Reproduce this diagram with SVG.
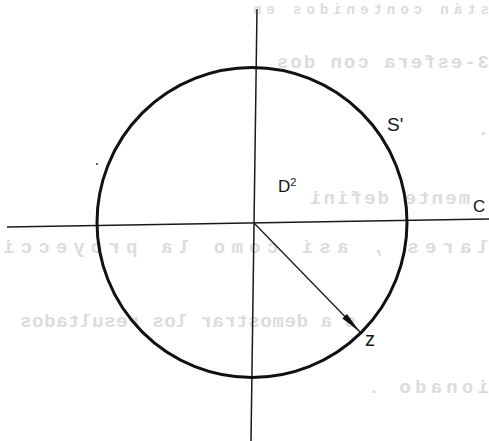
<svg xmlns="http://www.w3.org/2000/svg" width="489" height="441" viewBox="0 0 489 441">
  <style>
    .bg { fill: #dcdcdc; font-family: "Liberation Mono", "Courier New", monospace; font-weight: bold; font-size: 19px; }
    .bg.small { font-size: 14px; }
    .lbl { fill: #151515; font-family: "Liberation Sans", Arial, sans-serif; }
    .axis { stroke: #1a1a1a; stroke-width: 1.5; fill: none; }
  </style>
  <defs>
    <marker id="arrow" markerUnits="userSpaceOnUse" markerWidth="26" markerHeight="10" viewBox="-24 -5 26 10" refX="0" refY="0" orient="auto">
      <path d="M0,0 L-22,-3.2 L-22,3.2 Z" fill="#111"/>
    </marker>
  </defs>
  <rect x="0" y="0" width="489" height="441" fill="#ffffff"/>

  <g id="show-through" transform="scale(-1,1)">
    <text class="bg small" x="-489" y="14" textLength="236" lengthAdjust="spacing">stán contenidos en</text>
    <text class="bg" x="-489" y="68" textLength="212" lengthAdjust="spacing">3-esfera con dos</text>
    <text class="bg" x="-489" y="135">.</text>
    <text class="bg" x="-470" y="204" textLength="160" lengthAdjust="spacing">mente defini</text>
    <text class="bg" x="-489" y="253" textLength="486" lengthAdjust="spacing">lares ,  así como la proyecci</text>
    <text class="bg" x="-356" y="327" textLength="336" lengthAdjust="spacing">s a demostrar los resultados</text>
    <text class="bg" x="-489" y="393" textLength="121" lengthAdjust="spacing">ionado .</text>
  </g>

  <g id="connectors">
    <line class="axis" x1="257" y1="9" x2="251" y2="441"/>
    <line class="axis" x1="7" y1="227" x2="489" y2="219"/>
    <line x1="254" y1="223" x2="360" y2="332" stroke="#1a1a1a" stroke-width="1.3" marker-end="url(#arrow)"/>
  </g>

  <g id="circle-S1">
    <circle cx="252" cy="222.5" r="155" fill="none" stroke="#111" stroke-width="3"/>
    <text class="lbl" x="387" y="131" font-size="19">S'</text>
  </g>

  <g id="label-D2">
    <text class="lbl" x="278" y="192" font-size="17">D<tspan font-size="11" dy="-6">2</tspan></text>
  </g>

  <g id="label-C">
    <text class="lbl" x="473" y="212" font-size="17">C</text>
  </g>

  <g id="label-z">
    <text class="lbl" x="365" y="346" font-size="20">z</text>
  </g>

  <circle cx="97" cy="164" r="1" fill="#333"/>
</svg>
